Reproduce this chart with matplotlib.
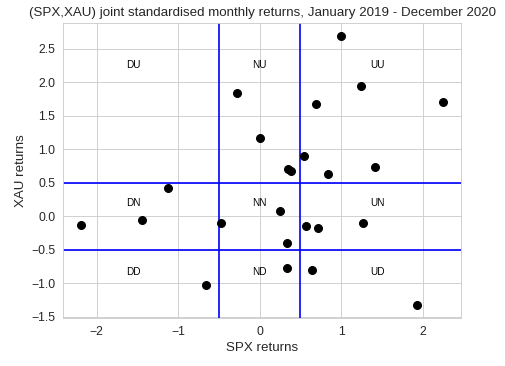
"""Joint standardised monthly returns of SPX and XAU, 2019-2020, split in zones"""

import numpy as np
import matplotlib.pyplot as plt
import seaborn as sns

#-- standardised monthly returns
spx = [-2.19, -1.45, -1.12, -0.47, -0.66, -0.28, 0.00, 0.25, 0.34, 0.33,
       0.35, 0.38, 0.54, 0.57, 0.71, 0.69, 0.84, 0.64, 1.00, 1.24,
       1.41, 1.27, 1.93, 2.25]
xau = [-0.13, -0.06, 0.42, -0.10, -1.03, 1.84, 1.16, 0.07, -0.40, -0.77,
       0.71, 0.67, 0.89, -0.15, -0.18, 1.67, 0.63, -0.80, 2.68, 1.94,
       0.73, -0.10, -1.32, 1.70]

#-- zone thresholds and zone labels
cuts = [-0.5, 0.5]
zone_names = ['DU', 'NU', 'UU', 'DN', 'NN', 'UN', 'DD', 'ND', 'UD']
zone_x = [-1.55, 0.0, 1.45] * 3
zone_y = [2.25] * 3 + [0.2] * 3 + [-0.84] * 3

#-------------------------------------------------------------------------------

sns.set_style('whitegrid')
plt.rcParams['font.family'] = ['Liberation Sans', 'DejaVu Sans']

DPI = 80
fig = plt.figure(figsize=(505. / DPI, 366. / DPI), dpi=DPI)
ax = fig.add_axes([0.125, 0.131, 0.788, 0.806])

ax.scatter(spx, xau, color='black', s=50, zorder=3)

for c in cuts:
    ax.axvline(c, color='blue', lw=1.5)
    ax.axhline(c, color='blue', lw=1.5)

for name, x, y in zip(zone_names, zone_x, zone_y):
    ax.text(x, y, name, ha='center', va='center', fontsize=9, color='black')

ax.set_xlabel('SPX returns', fontsize=12)
ax.set_ylabel('XAU returns', fontsize=12)
ax.tick_params(labelsize=11)
ax.set_title('(SPX,XAU) joint standardised monthly returns, January 2019 - December 2020',
             fontsize=12)

fig.savefig('out.png', dpi=DPI)
